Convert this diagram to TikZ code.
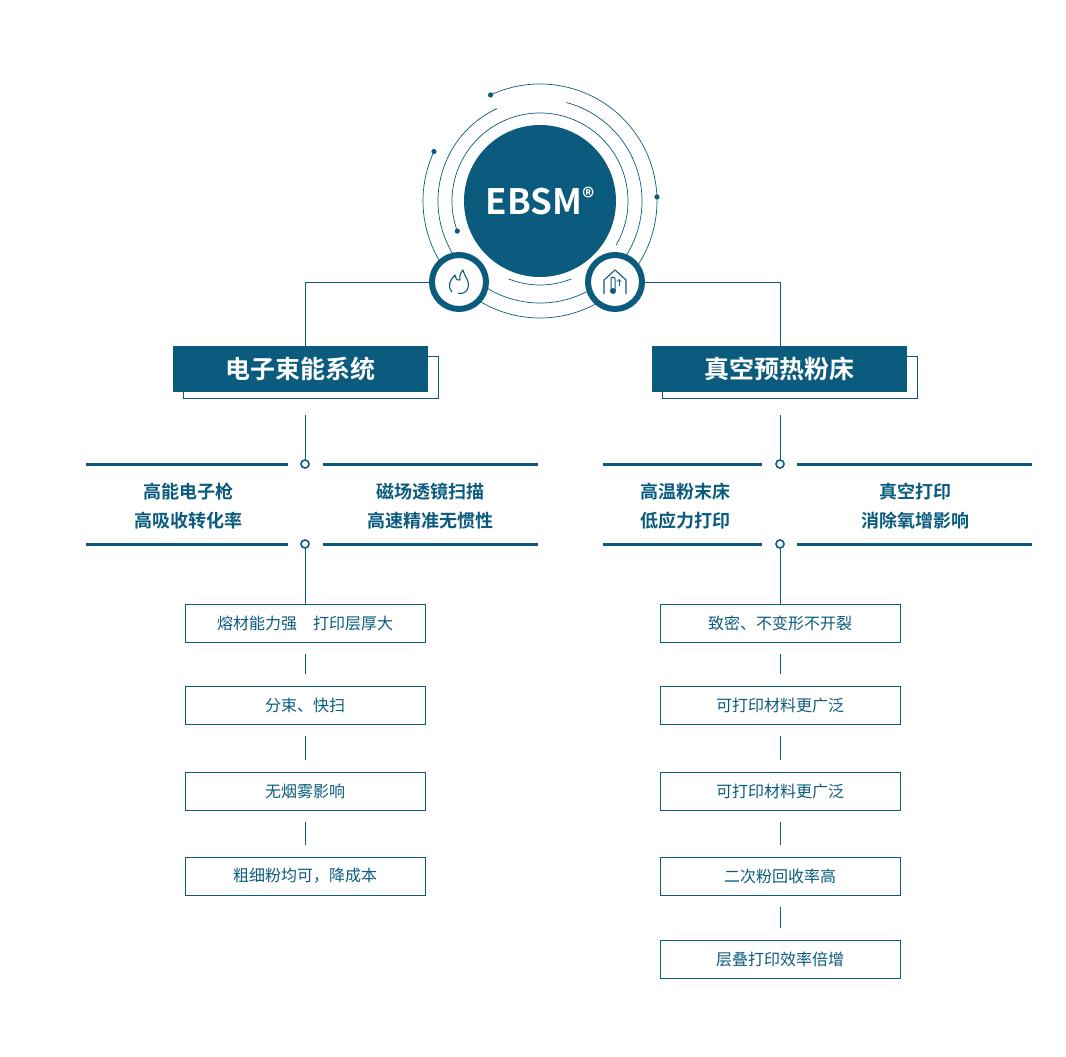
\documentclass[tikz,border=0pt]{standalone}
\usepackage{fontspec}
\usetikzlibrary{calc}
\setmainfont{Noto Sans CJK SC}
\newfontfamily\cjkb{Noto Sans CJK SC Bold}
\definecolor{mb}{RGB}{10,91,125}
\begin{document}
\begin{tikzpicture}[x=1pt,y=-1pt,
  hdr/.style={fill=mb,minimum width=255pt,minimum height=46pt,inner sep=0pt,text=white,font=\cjkb\fontsize{25}{25}\selectfont},
  sh/.style={draw=mb,line width=0.6pt},
  item/.style={draw=mb,line width=0.8pt,minimum width=240pt,minimum height=38pt,inner sep=0pt,text=mb,font=\fontsize{16}{16}\selectfont},
  feat/.style={text=mb,align=center,font=\cjkb\fontsize{18}{29}\selectfont},
  thin/.style={draw=mb,line width=0.7pt},
  bar/.style={draw=mb,line width=3pt},
  dotn/.style={circle,draw=mb,line width=1.6pt,fill=white,minimum size=8pt,inner sep=0pt},
  icon/.style={circle,draw=mb,line width=6pt,fill=white,minimum size=54pt,inner sep=0pt}]
\useasboundingbox (0,0) rectangle (1066,1057);
% rings
\coordinate (c) at (540,201);
\draw[thin] ($(c)+(-115:117)$) arc[start angle=-115,end angle=40,radius=117];
\draw[thin] ($(c)+(-155:117)$) arc[start angle=-155,end angle=-300,radius=117];
\draw[thin] ($(c)+(-75:102)$) arc[start angle=-75,end angle=245,radius=102];
\draw[thin] ($(c)+(-200:88)$) arc[start angle=-200,end angle=30,radius=88];
\draw[thin] ($(c)+(112:84)$) arc[start angle=112,end angle=68,radius=84];
\foreach \a/\r in {-115/117,-155/117,-2/117,-200/88}{\fill[mb] ($(c)+(\a:\r)$) circle (2.6pt);}
\node[circle,fill=mb,minimum size=152pt,inner sep=0pt,text=white,font=\cjkb\fontsize{35}{35}\selectfont] (ebsm) at (c) {EBSM\raisebox{8pt}{\fontsize{24}{24}\selectfont ®}};
% icons
\node[icon] (i1) at (459,282) {};
\node[icon] (i2) at (615,282) {};
\draw[mb,line width=1.1pt,line join=round] (452,292) .. controls (447,286) and (450,280) .. (455,275) .. controls (456,280) and (458,281) .. (460,280) .. controls (459,276) and (461,272) .. (463,270) .. controls (464,276) and (470,280) .. (468,288) .. controls (467,292) and (461,295) .. (458,293);
\draw[mb,line width=1.1pt,line join=round] (604,294) -- (604,280) -- (615,270) -- (626,280) -- (626,294);
\draw[mb,line width=1pt] (611,290) -- (611,279) arc[start angle=180,end angle=360,radius=2] -- (615,290);
\fill[mb] (613,291) circle (3pt);
\draw[mb,line width=0.9pt,->] (619,286) -- (619,279);
% headers
\node[hdr] (h1) at (300,369) {电子束能系统};
\node[hdr] (h2) at (779,369) {真空预热粉床};
\draw[sh] (428,356) -- (438,356) -- (438,398) -- (183,398) -- (183,392);
\draw[sh] (907,356) -- (917,356) -- (917,398) -- (662,398) -- (662,392);
\draw[thin] (i1.west) -| ($(h1.north)+(5,0)$);
\draw[thin] (i2.east) -| ($(h2.north)+(1,0)$);
% feature bars
\foreach \l/\lr/\r/\rr in {86/288/323/538, 603/762/797/1032}{
  \draw[bar] (\l,464) -- (\lr,464); \draw[bar] (\r,464) -- (\rr,464);
  \draw[bar] (\l,544) -- (\lr,544); \draw[bar] (\r,544) -- (\rr,544);
}
\node[dotn] (d1) at (305,464) {};
\node[dotn] (d2) at (305,544) {};
\node[dotn] (d3) at (780,464) {};
\node[dotn] (d4) at (780,544) {};
\coordinate (t1) at (305,415); \coordinate (t2) at (780,415);
\draw[thin] (t1) -- (d1); \draw[thin] (t2) -- (d3);
\node[feat] at (188,506) {高能电子枪\\高吸收转化率};
\node[feat] at (430,506) {磁场透镜扫描\\高速精准无惯性};
\node[feat] at (685,506) {高温粉末床\\低应力打印};
\node[feat] at (915,506) {真空打印\\消除氧增影响};
% items
\node[item] (a1) at (305,623) {熔材能力强\quad 打印层厚大};
\node[item] (a2) at (305,705) {分束、快扫};
\node[item] (a3) at (305,791) {无烟雾影响};
\node[item] (a4) at (305,876) {粗细粉均可，降成本};
\node[item] (b1) at (780,623) {致密、不变形不开裂};
\node[item] (b2) at (780,705) {可打印材料更广泛};
\node[item] (b3) at (780,791) {可打印材料更广泛};
\node[item] (b4) at (780,876) {二次粉回收率高};
\node[item] (b5) at (780,959) {层叠打印效率倍增};
\draw[thin] (d2) -- (a1); \draw[thin] (d4) -- (b1);
\foreach \p/\q in {a1/a2,a2/a3,a3/a4,b1/b2,b2/b3,b3/b4,b4/b5}{
  \draw[thin] ($(\p.south)+(0,12)$) -- ($(\q.north)+(0,-12)$);}
\end{tikzpicture}
\end{document}
